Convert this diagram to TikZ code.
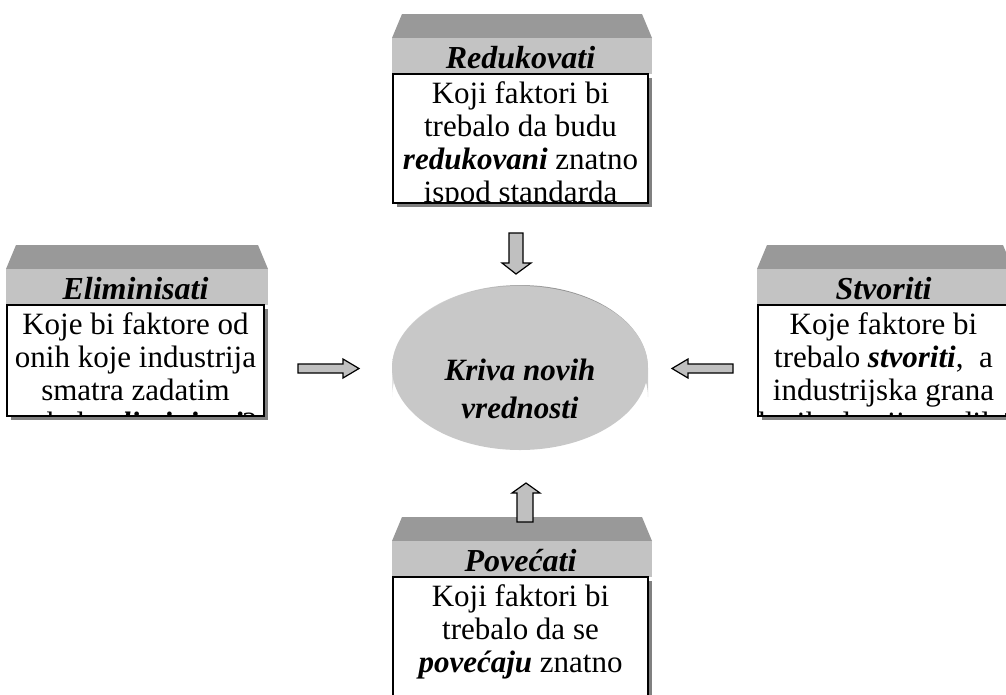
\documentclass[tikz,border=0pt]{standalone}
\usepackage{fontspec}
\setmainfont{Liberation Serif}
\definecolor{lidgray}{HTML}{999999}
\definecolor{bandgray}{HTML}{C3C3C3}
\definecolor{shadowgray}{HTML}{808080}
\definecolor{discgray}{HTML}{C8C8C8}
\definecolor{arrowgray}{HTML}{C0C0C0}
% side band of the disc: light at the left, darkest right of centre
\pgfdeclarehorizontalshading{discrim}{100bp}{
  color(0bp)=(black!11); color(25bp)=(black!11); color(42bp)=(black!24);
  color(57bp)=(black!42); color(65bp)=(black!42); color(71bp)=(black!30);
  color(75bp)=(black!20); color(100bp)=(black!20)}
\tikzset{
  cardtitle/.style={inner sep=0pt, anchor=base,
    font=\fontsize{32}{36}\selectfont\bfseries\itshape},
  cardbody/.style={inner sep=0pt, anchor=north, align=center,
    font=\fontsize{31}{33}\selectfont},
  blockarrow/.style={draw=black, line width=1.2pt, fill=arrowgray, line join=miter},
  disctext/.style={inner sep=0pt, align=center,
    font=\fontsize{31}{38}\selectfont\bfseries\itshape},
}
% #1 name, #2 left x, #3 lid top y, #4 right x, #5 bottom y, #6 title, #7 body
\newcommand\factorcard[7]{%
  \fill[shadowgray] (#2+4,#3+64) rectangle (#4+4,#5+4);
  \fill[lidgray] (#2+9,#3) -- (#4-6,#3) -- (#4+4,#3+24) -- (#2-1,#3+24) -- cycle;
  \fill[bandgray] (#2-1,#3+24) rectangle (#4+4,#3+60);
  \node[cardtitle] (#1-title) at ({(#2+#4)/2},#3+54) {#6};
  \fill[white] (#2,#3+60) rectangle (#4,#5);
  \begin{scope}
    \clip (#2,#3+60) rectangle (#4,#5);
    \node[cardbody] (#1-body) at ({(#2+#4)/2},#3+67) {#7};
  \end{scope}
  \draw[line width=1.2pt] (#2,#3+60) rectangle (#4,#5);
}
\newcommand\bi[1]{\textbf{\textit{#1}}}
\begin{document}
\begin{tikzpicture}[x=1pt,y=-1pt]
\useasboundingbox (0,0) rectangle (1006,694);
\clip (0,0) rectangle (1006,694);

% central disc: shaded side band, then the flat top face
\shade[shading=discrim]
  (392,368) -- (392,397) arc[start angle=180, end angle=360, x radius=128, y radius=83]
  -- (648,368) arc[start angle=0, end angle=-180, x radius=128, y radius=83] -- cycle;
\fill[discgray] (520,368) ellipse[x radius=128, y radius=82];
\node[disctext] (disc) at (520,389) {Kriva novih\\vrednosti};

% the four cards
\factorcard{reduce}{393}{14}{648}{203}{Redukovati}
  {Koji faktori bi\\trebalo da budu\\\bi{redukovani} znatno\\ispod standarda}
\factorcard{elim}{7}{245}{264}{416}{Eliminisati}
  {Koje bi faktore od\\onih koje industrija\\smatra zadatim\\trebalo \bi{eliminisati}?}
\factorcard{create}{758}{245}{1009}{416}{Stvoriti}
  {Koje faktore bi\\trebalo \bi{stvoriti},\ \ a\\industrijska grana\\ih nikada nije nudila?}
\factorcard{raise}{393}{517}{648}{720}{Povećati}
  {Koji faktori bi\\trebalo da se\\\bi{povećaju} znatno}

% block arrows pointing at the disc
\draw[blockarrow] (509,233) -- (523,233) -- (523,263) -- (531,263) -- (516,274)
  -- (502,263) -- (509,263) -- cycle;
\draw[blockarrow] (517,522) -- (533,522) -- (533,493) -- (540,493) -- (526,483)
  -- (512,493) -- (517,493) -- cycle;
\draw[blockarrow] (298,364) -- (343,364) -- (343,359) -- (359,368.5) -- (343,378)
  -- (343,373) -- (298,373) -- cycle;
\draw[blockarrow] (733,364) -- (688,364) -- (688,359) -- (672,368.5) -- (688,378)
  -- (688,373) -- (733,373) -- cycle;
\end{tikzpicture}
\end{document}
